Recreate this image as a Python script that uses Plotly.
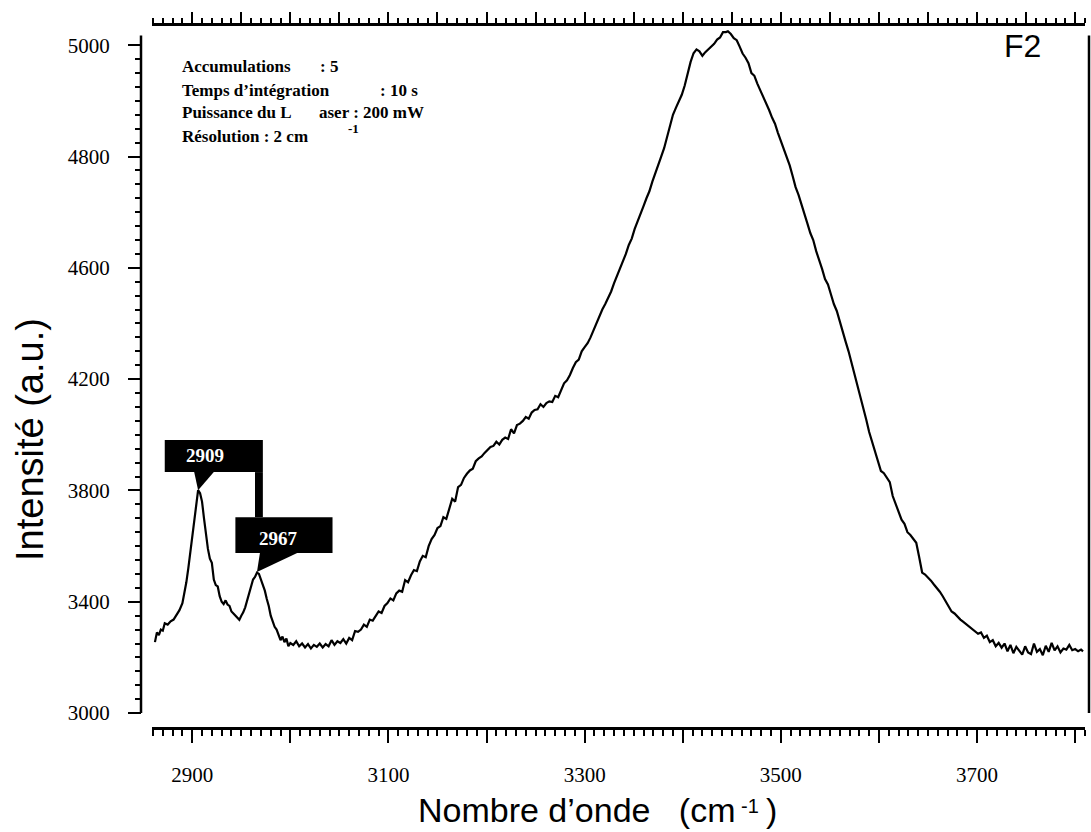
import plotly.graph_objects as go

# Spectre Raman F2 : nombre d'onde (cm-1) / intensité (u.a.)
wavenumber = [
    2862, 2864, 2866, 2868, 2870, 2872, 2875, 2878, 2881, 2884, 2887, 2890, 2892, 2894, 2896, 2898,
    2900, 2902, 2904, 2906, 2908, 2910, 2912, 2914, 2916, 2918, 2920, 2922, 2924, 2926, 2928, 2930,
    2932, 2934, 2936, 2938, 2940, 2942, 2944, 2946, 2948, 2950, 2952, 2954, 2956, 2958, 2960, 2962,
    2964, 2966, 2968, 2970, 2972, 2974, 2976, 2978, 2980, 2982, 2984, 2986, 2988, 2990, 2992, 2994,
    2996, 2998, 3000, 3003, 3006, 3009, 3012, 3015, 3018, 3021, 3024, 3027, 3030, 3033, 3036, 3039,
    3042, 3045, 3048, 3051, 3054, 3057, 3060, 3063, 3066, 3069, 3072, 3075, 3078, 3081, 3084, 3087,
    3090, 3093, 3096, 3099, 3102, 3105, 3108, 3111, 3114, 3117, 3120, 3123, 3126, 3129, 3132, 3135,
    3138, 3141, 3144, 3147, 3150, 3153, 3156, 3159, 3162, 3165, 3168, 3171, 3174, 3177, 3180, 3183,
    3186, 3189, 3192, 3195, 3198, 3201, 3204, 3207, 3210, 3213, 3216, 3219, 3222, 3225, 3228, 3231,
    3234, 3237, 3240, 3243, 3246, 3249, 3252, 3255, 3258, 3261, 3264, 3267, 3270, 3273, 3276, 3279,
    3282, 3285, 3288, 3291, 3294, 3297, 3300, 3303, 3306, 3309, 3312, 3315, 3318, 3321, 3324, 3327,
    3330, 3333, 3336, 3339, 3342, 3345, 3348, 3351, 3354, 3357, 3360, 3363, 3366, 3369, 3372, 3375,
    3378, 3381, 3384, 3387, 3390, 3393, 3396, 3399, 3402, 3405, 3408, 3411, 3414, 3417, 3420, 3423,
    3426, 3429, 3432, 3435, 3438, 3441, 3444, 3446, 3449, 3452, 3455, 3458, 3461, 3464, 3467, 3470,
    3473, 3476, 3479, 3482, 3485, 3488, 3491, 3494, 3497, 3500, 3503, 3506, 3509, 3512, 3515, 3518,
    3521, 3524, 3527, 3530, 3533, 3536, 3539, 3542, 3545, 3548, 3551, 3554, 3557, 3560, 3563, 3566,
    3569, 3572, 3575, 3578, 3581, 3584, 3587, 3590, 3593, 3596, 3599, 3602, 3605, 3608, 3611, 3614,
    3617, 3620, 3623, 3626, 3629, 3632, 3635, 3638, 3641, 3644, 3647, 3650, 3653, 3656, 3659, 3662,
    3665, 3668, 3671, 3674, 3677, 3680, 3683, 3686, 3689, 3692, 3695, 3698, 3701, 3704, 3707, 3710,
    3713, 3716, 3719, 3722, 3725, 3728, 3731, 3734, 3737, 3740, 3743, 3746, 3749, 3752, 3755, 3758,
    3761, 3764, 3767, 3770, 3773, 3776, 3779, 3782, 3785, 3788, 3791, 3794, 3797, 3800, 3803, 3806,
    3808,
]
intensity = [
    3255, 3290, 3280, 3300, 3296, 3323, 3318, 3330, 3336, 3352, 3370, 3395, 3430, 3470, 3520, 3575,
    3620, 3680, 3740, 3801, 3790, 3760, 3700, 3640, 3590, 3555, 3540, 3480, 3460, 3455, 3420, 3400,
    3392, 3405, 3390, 3385, 3365, 3358, 3350, 3340, 3335, 3350, 3362, 3380, 3405, 3430, 3450, 3480,
    3489, 3505, 3500, 3480, 3467, 3440, 3410, 3385, 3350, 3330, 3310, 3300, 3280, 3262, 3275, 3255,
    3268, 3240, 3252, 3245, 3258, 3240, 3250, 3236, 3248, 3232, 3245, 3238, 3250, 3236, 3248, 3240,
    3262, 3245, 3258, 3252, 3266, 3250, 3270, 3262, 3295, 3292, 3300, 3318, 3310, 3336, 3332, 3350,
    3365, 3360, 3385, 3395, 3412, 3405, 3430, 3440, 3436, 3478, 3470, 3495, 3514, 3510, 3545, 3565,
    3560, 3600, 3625, 3640, 3665, 3672, 3704, 3698, 3735, 3770, 3760, 3812, 3820, 3845, 3860, 3872,
    3878, 3905, 3915, 3922, 3935, 3945, 3956, 3960, 3975, 3965, 3982, 3990, 3985, 4020, 4005, 4035,
    4040, 4050, 4064, 4058, 4080, 4089, 4092, 4110, 4100, 4114, 4120, 4118, 4140, 4135, 4160, 4185,
    4196, 4215, 4240, 4261, 4270, 4300, 4315, 4329, 4350, 4376, 4400, 4430, 4450, 4470, 4492, 4515,
    4545, 4570, 4598, 4625, 4650, 4682, 4705, 4740, 4765, 4790, 4822, 4850, 4875, 4910, 4938, 4965,
    5000, 5030, 5070, 5120, 5150, 5175, 5200, 5222, 5255, 5300, 5340, 5371, 5385, 5378, 5362, 5375,
    5385, 5395, 5405, 5420, 5428, 5447, 5447, 5450, 5440, 5425, 5418, 5395, 5370, 5355, 5335, 5300,
    5290, 5262, 5238, 5220, 5190, 5167, 5140, 5118, 5085, 5055, 5030, 4995, 4968, 4930, 4890, 4862,
    4830, 4795, 4760, 4725, 4700, 4660, 4630, 4596, 4560, 4540, 4505, 4470, 4445, 4405, 4370, 4335,
    4300, 4260, 4215, 4185, 4140, 4095, 4055, 4010, 3975, 3945, 3910, 3870, 3862, 3845, 3830, 3780,
    3752, 3725, 3695, 3680, 3650, 3640, 3625, 3612, 3560, 3505, 3498, 3488, 3476, 3462, 3450, 3436,
    3420, 3400, 3380, 3365, 3358, 3345, 3336, 3328, 3320, 3312, 3302, 3294, 3285, 3290, 3270, 3278,
    3255, 3262, 3240, 3252, 3235, 3250, 3222, 3245, 3215, 3238, 3226, 3210, 3240, 3218, 3212, 3250,
    3220, 3230, 3208, 3242, 3220, 3252, 3225, 3240, 3218, 3232, 3228, 3245, 3226, 3230, 3222, 3228,
    3222,
]

# étiquettes des pics
peak_labels = ["2909", "2967"]
peak_pos = [2906, 2966]
peak_int = [3801, 3507]

x_ticks = [2900, 3000, 3100, 3200, 3300, 3400, 3500, 3600, 3700, 3800]
x_ticktext = ["2900", "", "3100", "", "3300", "", "3500", "", "3700", ""]
y_ticks = [3000, 3200, 3400, 3600, 3800, 4000, 4200, 4400, 4600, 4800, 5000, 5200, 5400]
y_ticktext = ["3000", "", "3400", "", "3800", "", "4200", "", "4600", "", "4800", "", "5000"]

conditions = [
    ("Accumulations", ": 5"),
    ("Temps d’intégration", ": 10 s"),
    ("Puissance du L", "aser : 200 mW"),
    ("Résolution : 2 cm", "-1"),
]

W, H = 1091, 832
L, R, T, B = 141, 2, 22, 105


def px(x):
    return (x - L) / (W - L - R)


def py(y):
    return (H - B - y) / (H - T - B)


serif = "Liberation Serif, Times New Roman, serif"
sans = "Liberation Sans, Arial, sans-serif"

fig = go.Figure()
fig.add_trace(go.Scatter(x=wavenumber, y=intensity, mode="lines",
                         line=dict(color="black", width=2.2), showlegend=False,
                         hoverinfo="skip"))
# axe du haut (graduations différentes)
fig.add_trace(go.Scatter(x=[], y=[], xaxis="x2", showlegend=False))

fig.update_layout(
    width=W, height=H,
    margin=dict(l=L, r=R, t=T, b=B),
    paper_bgcolor="white", plot_bgcolor="white",
    xaxis=dict(
        domain=[px(152), px(1085)], range=[2859, 3810], anchor="y",
        showline=True, linecolor="black", linewidth=2.5,
        tickmode="array", tickvals=x_ticks, ticktext=x_ticktext,
        ticks="outside", ticklen=13, tickwidth=2, tickcolor="black",
        ticklabelstandoff=14,
        tickfont=dict(family=serif, size=21, color="black"),
        minor=dict(tickmode="linear", tick0=2860, dtick=10, ticks="outside",
                   ticklen=6, tickwidth=2, tickcolor="black", showgrid=False),
        showgrid=False, zeroline=False,
    ),
    xaxis2=dict(
        domain=[px(152), px(1083)], range=[2859, 3810], overlaying="x", side="top",
        anchor="y", showline=True, linecolor="black", linewidth=2.5,
        tickmode="linear", tick0=2900, dtick=50,
        ticks="outside", ticklen=11, tickwidth=2, tickcolor="black",
        showticklabels=False,
        minor=dict(tickmode="linear", tick0=2860, dtick=10, ticks="outside",
                   ticklen=5, tickwidth=2, tickcolor="black", showgrid=False),
        showgrid=False, zeroline=False,
    ),
    yaxis=dict(
        domain=[0, 1 - 4 / 705], range=[2950, 5469], anchor="free", position=0,
        showline=False,
        tickmode="array", tickvals=y_ticks, ticktext=y_ticktext,
        ticks="outside", ticklen=13, tickwidth=2, tickcolor="black",
        ticklabelstandoff=14,
        tickfont=dict(family=serif, size=21, color="black"),
        minor=dict(tickmode="array", tickvals=list(range(3000, 5401, 50)),
                   ticks="outside", ticklen=6, tickwidth=2, tickcolor="black",
                   showgrid=False),
        showgrid=False, zeroline=False,
    ),
)

# cadre : axes verticaux gauche et droit (raccourcis)
for xv in (0, 1):
    fig.add_shape(type="line", xref="paper", yref="y", x0=xv, x1=xv, y0=3000, y1=5435,
                  line=dict(color="black", width=2.5))

# étiquettes noires des pics
fig.add_shape(type="rect", xref="x", yref="y", x0=2872, x1=2972, y0=3866, y1=3981,
              fillcolor="black", line=dict(width=0))
fig.add_shape(type="rect", xref="x", yref="y", x0=2964, x1=2972, y0=3704, y1=3866,
              fillcolor="black", line=dict(width=0))
fig.add_shape(type="rect", xref="x", yref="y", x0=2944, x1=3043, y0=3575, y1=3704,
              fillcolor="black", line=dict(width=0))
fig.add_shape(type="path", xref="x", yref="y",
              path=f"M 2902,3866 L 2922,3866 L {peak_pos[0]},{peak_int[0]} Z",
              fillcolor="black", line=dict(width=0))
fig.add_shape(type="path", xref="x", yref="y",
              path=f"M 2969,3575 L 3007,3575 L {peak_pos[1]},{peak_int[1]} Z",
              fillcolor="black", line=dict(width=0))
fig.add_annotation(x=2913, y=3927, xref="x", yref="y", text=f"<b>{peak_labels[0]}</b>",
                   showarrow=False, font=dict(family=serif, size=19, color="white"))
fig.add_annotation(x=2988, y=3629, xref="x", yref="y", text=f"<b>{peak_labels[1]}</b>",
                   showarrow=False, font=dict(family=serif, size=19, color="white"))

# conditions d'acquisition
rows_y = [67, 90, 113, 136]
second_x = [318, 378, 317, 346]
for (left, right), yy, x2 in zip(conditions, rows_y, second_x):
    fig.add_annotation(x=px(180), y=py(yy), xref="paper", yref="paper", xanchor="left",
                       yanchor="middle", text=f"<b>{left}</b>", showarrow=False,
                       font=dict(family=serif, size=17, color="black"))
    if right == "-1":
        fig.add_annotation(x=px(x2), y=py(yy - 8), xref="paper", yref="paper", xanchor="left",
                           yanchor="middle", text=f"<b>{right}</b>", showarrow=False,
                           font=dict(family=serif, size=13, color="black"))
    else:
        fig.add_annotation(x=px(x2), y=py(yy), xref="paper", yref="paper", xanchor="left",
                           yanchor="middle", text=f"<b>{right}</b>", showarrow=False,
                           font=dict(family=serif, size=17, color="black"))

fig.add_annotation(x=px(1022), y=py(46), xref="paper", yref="paper", text="F2",
                   xanchor="center", yanchor="middle",
                   showarrow=False, font=dict(family=sans, size=32, color="black"))

# titres des axes (l'exposant -1 est un texte à part)
fig.add_annotation(x=px(737), y=py(810), xref="paper", yref="paper",
                   xanchor="right", yanchor="middle",
                   text="Nombre d’onde\u00a0\u00a0\u00a0(cm",
                   showarrow=False, font=dict(family=sans, size=34, color="black"))
fig.add_annotation(x=px(750), y=py(806), xref="paper", yref="paper",
                   xanchor="center", yanchor="middle", text="-1",
                   showarrow=False, font=dict(family=sans, size=20, color="black"))
fig.add_annotation(x=px(764), y=py(810), xref="paper", yref="paper",
                   xanchor="left", yanchor="middle", text=")",
                   showarrow=False, font=dict(family=sans, size=34, color="black"))
fig.add_annotation(x=px(30), y=py(440), xref="paper", yref="paper", textangle=-90,
                   xanchor="center", yanchor="middle",
                   text="Intensité (a.u.)", showarrow=False,
                   font=dict(family=sans, size=38, color="black"))

# page sans marge pour que la figure occupe exactement la fenêtre
fig.write_html("out.html", config={"displayModeBar": False},
               post_script="document.body.style.margin='0';")
